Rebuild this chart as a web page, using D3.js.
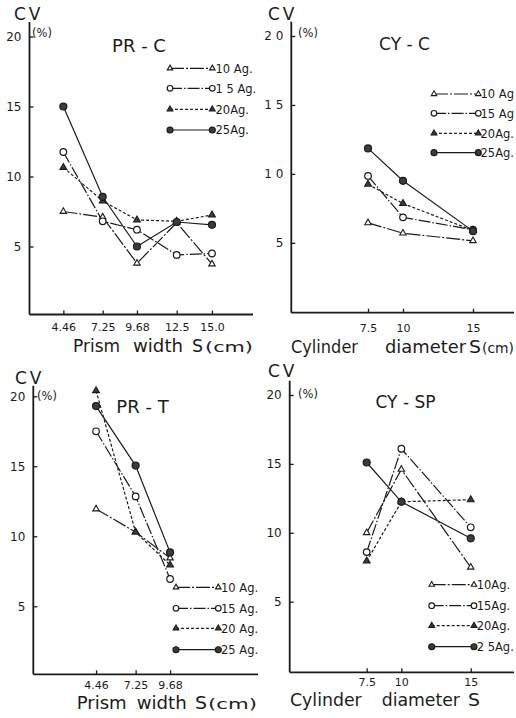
<!DOCTYPE html>
<html>
<head>
<meta charset="utf-8">
<script src="https://cdn.jsdelivr.net/npm/d3@7"></script>
<style>
  body { margin: 0; background: #fff; }
  svg text { font-family: "DejaVu Sans", sans-serif; fill: #1b1b1b; }
</style>
</head>
<body>
<svg id="chart" width="516" height="718"></svg>
<script>
// Coefficient of variation (%) by sample size for prism and cylinder specimens
const seriesNames = ["10 Ag.", "15 Ag.", "20 Ag.", "25 Ag."];

const prismWidths = [4.46, 7.25, 9.68, 12.5, 15.0];
const prismTickLabels = ["4.46", "7.25", "9.68", "12.5", "15.0"];
const prismWidthsT = [4.46, 7.25, 9.68];
const prismTickLabelsT = ["4.46", "7.25", "9.68"];
const cylinderDiameters = [7.5, 10, 15];
const cylinderTickLabels = ["7.5", "10", "15"];

const cvTicks = [5, 10, 15, 20];
const cvTickLabels = ["5", "10", "15", "20"];
const cvTickLabelsSpaced = ["5", "1 0", "1 5", "2 0"];

// PR-C
const prC_10 = [7.5, 7.1, 3.8, 6.7, 3.75];
const prC_15 = [11.75, 6.8, 6.2, 4.4, 4.5];
const prC_20 = [10.65, 8.25, 6.9, 6.8, 7.25];
const prC_25 = [15.0, 8.55, 5.0, 6.75, 6.55];

// CY-C
const cyC_10 = [6.45, 5.7, 5.15];
const cyC_15 = [9.85, 6.85, 5.95];
const cyC_20 = [9.25, 7.85, 5.9];
const cyC_25 = [11.85, 9.5, 5.85];

// PR-T
const prT_10 = [11.95, 10.3, 8.45];
const prT_15 = [17.5, 12.85, 6.95];
const prT_20 = [20.4, 10.3, 7.95];
const prT_25 = [19.3, 15.05, 8.85];

// CY-SP
const cySP_10 = [10.0, 14.6, 7.5];
const cySP_15 = [8.6, 16.1, 10.4];
const cySP_20 = [7.95, 12.25, 12.4];
const cySP_25 = [15.1, 12.25, 9.6];

const svg = d3.select("#chart");
const ink = "#1b1b1b";
const fillDark = "#3c3c3c";

// marker kind and dash pattern per series (10, 15, 20, 25 Ag.)
const markerKinds = ["triOpen", "circleOpen", "triFilled", "circleFilled"];
const dashes = ["14,2,2,2", "12,2,1.5,2", "3,2", null];

function drawMarker(g, kind, cx, cy, scale = 1) {
  if (kind.startsWith("circle")) {
    g.append("circle")
      .attr("cx", cx).attr("cy", cy)
      .attr("r", (kind === "circleFilled" ? 3.5 : 3.3) * scale)
      .attr("fill", kind === "circleFilled" ? fillDark : "#fff")
      .attr("stroke", ink).attr("stroke-width", 1.2);
  } else {
    g.append("path")
      .attr("d", d3.symbol().type(d3.symbolTriangle).size((kind === "triFilled" ? 20 : 18) * scale * scale)())
      .attr("transform", `translate(${cx},${cy})`)
      .attr("fill", kind === "triFilled" ? fillDark : "#fff")
      .attr("stroke", ink).attr("stroke-width", 1.1);
  }
}

const panels = [
  {
    title: "PR - C", titleX: 139, titleY: 52, titleSize: 18,
    left: 29.5, right: 253, top: 22, axisY: 314.5,
    xDomain: [2.06, 17.91], y0: 316.5, y20: 36.5,
    xs: prismWidths, xLabels: prismTickLabels, yLabels: cvTickLabels,
    series: [prC_10, prC_15, prC_20, prC_25],
    cv: [14, 20], pct: [32, 37],
    xLabelBase: 331,
    axisTitle: [["Prism", 73, 120], ["width", 133, 183], ["S", 192, 203]], unitX: 205, unitW: 48, axisTitleY: 352,
    legend: { x1: 170, x2: 212.3, ys: [68.3, 88.3, 109.3, 130], tx: 215.5,
              labels: ["10 Ag.", "1 5 Ag.", "20Ag.", "25Ag."] }
  },
  {
    title: "CY - C", titleX: 404.5, titleY: 49.5, titleSize: 17,
    left: 291.3, right: 514, top: 21.7, axisY: 312.7,
    xDomain: [2.02, 17.93], y0: 311.8, y20: 36,
    xs: cylinderDiameters, xLabels: cylinderTickLabels, yLabels: cvTickLabelsSpaced,
    series: [cyC_10, cyC_15, cyC_20, cyC_25],
    cv: [268, 20], pct: [298, 37],
    xLabelBase: 332,
    axisTitle: [["Cylinder", 291, 358], ["diameter", 385, 466], ["S", 469, 481]], unitX: 482, unitW: 32, axisTitleY: 353,
    legend: { x1: 434, x2: 478.3, ys: [94, 113.3, 133.3, 152.7], tx: 480.5,
              labels: ["10 Ag", "15 Ag", "20Ag.", "25Ag."] }
  },
  {
    title: "PR - T", titleX: 142.5, titleY: 412.5, titleSize: 18,
    left: 33.3, right: 258, top: 385.7, axisY: 674.3,
    xDomain: [0.035, 15.88], y0: 676.3, y20: 396.3,
    xs: prismWidthsT, xLabels: prismTickLabelsT, yLabels: cvTickLabels,
    series: [prT_10, prT_15, prT_20, prT_25],
    cv: [15, 384], pct: [37, 400],
    xLabelBase: 689,
    axisTitle: [["Prism", 76.7, 126.7], ["width", 136.7, 186.7], ["S", 195, 207]], unitX: 208, unitW: 49, axisTitleY: 708.5,
    legend: { x1: 176, x2: 218.3, ys: [587.3, 608.3, 628.3, 649.7], tx: 221,
              labels: ["10 Ag.", "15 Ag.", "20 Ag.", "25 Ag."] }
  },
  {
    title: "CY - SP", titleX: 405.5, titleY: 407.5, titleSize: 17,
    left: 289.7, right: 514, top: 380.7, axisY: 672.3,
    xDomain: [1.95, 18.12], y0: 670.6, y20: 395,
    xs: cylinderDiameters, xLabels: cylinderTickLabels, yLabels: cvTickLabels,
    series: [cySP_10, cySP_15, cySP_20, cySP_25],
    cv: [268, 377], pct: [298, 398],
    xLabelBase: 686.5,
    axisTitle: [["Cylinder", 290, 361.7], ["diameter", 381.7, 460], ["S", 468, 480]], unitX: null, axisTitleY: 706,
    legend: { x1: 431.7, x2: 474, ys: [584.7, 605.7, 625.7, 646.7], tx: 476.7,
              labels: ["10Ag.", "15Ag.", "20Ag.", "2 5Ag."] }
  }
];

function drawPanel(p) {
  const g = svg.append("g");
  const x = d3.scaleLinear().domain(p.xDomain).range([p.left, p.right]);
  const y = d3.scaleLinear().domain([0, 20]).range([p.y0, p.y20]);

  // axis lines
  g.append("line").attr("x1", p.left).attr("x2", p.right)
    .attr("y1", p.axisY).attr("y2", p.axisY)
    .attr("stroke", ink).attr("stroke-width", 1.8);
  g.append("line").attr("x1", p.left).attr("x2", p.left)
    .attr("y1", p.axisY).attr("y2", p.top)
    .attr("stroke", ink).attr("stroke-width", 1.8);

  // x ticks point inward, labels below
  const xa = g.append("g").attr("transform", `translate(0,${p.axisY})`)
    .call(d3.axisBottom(x).tickValues(p.xs)
      .tickFormat((d, i) => p.xLabels[i])
      .tickSizeInner(-4).tickSizeOuter(0).tickPadding(0));
  xa.select(".domain").remove();
  xa.attr("font-family", null).attr("font-size", null);
  xa.selectAll(".tick line").attr("stroke", ink).attr("stroke-width", 1.3);
  xa.selectAll(".tick text").attr("y", p.xLabelBase - p.axisY).attr("dy", null)
    .attr("font-size", 11).attr("fill", ink);

  // y ticks point inward, labels left
  const ya = g.append("g").attr("transform", `translate(${p.left},0)`)
    .call(d3.axisLeft(y).tickValues(cvTicks)
      .tickFormat((d, i) => p.yLabels[i])
      .tickSizeInner(-4).tickSizeOuter(0).tickPadding(8));
  ya.select(".domain").remove();
  ya.attr("font-family", null).attr("font-size", null);
  ya.selectAll(".tick line").attr("stroke", ink).attr("stroke-width", 1.3);
  ya.selectAll(".tick text").attr("font-size", 12).attr("fill", ink);

  // axis captions
  g.append("text").attr("x", p.cv[0]).attr("y", p.cv[1])
    .attr("font-size", 17).attr("letter-spacing", 3).text("CV");
  g.append("text").attr("x", p.pct[0]).attr("y", p.pct[1])
    .attr("font-size", 11.5).text("(%)");
  g.append("text").attr("x", p.titleX).attr("y", p.titleY)
    .attr("text-anchor", "middle").attr("font-size", p.titleSize)
    .text(p.title);

  p.axisTitle.forEach(([word, x0, x1]) => {
    g.append("text").attr("x", x0).attr("y", p.axisTitleY)
      .attr("font-size", 17.5)
      .attr("textLength", x1 - x0).attr("lengthAdjust", "spacingAndGlyphs")
      .text(word);
  });
  if (p.unitX !== null) {
    g.append("text").attr("x", p.unitX).attr("y", p.axisTitleY)
      .attr("font-size", 14)
      .attr("textLength", p.unitW).attr("lengthAdjust", "spacingAndGlyphs")
      .text("(cm)");
  }

  // data lines
  const line = d3.line().x((d, i) => x(p.xs[i])).y(d => y(d));
  p.series.forEach((vals, si) => {
    g.append("path").datum(vals).attr("d", line)
      .attr("fill", "none").attr("stroke", ink).attr("stroke-width", 1.2)
      .attr("stroke-dasharray", dashes[si]);
  });
  p.series.forEach((vals, si) => {
    vals.forEach((v, i) => drawMarker(g, markerKinds[si], x(p.xs[i]), y(v)));
  });

  // legend
  const L = p.legend;
  seriesNames.forEach((name, si) => {
    const ly = L.ys[si];
    g.append("line").attr("x1", L.x1).attr("x2", L.x2).attr("y1", ly).attr("y2", ly)
      .attr("stroke", ink).attr("stroke-width", 1.2)
      .attr("stroke-dasharray", dashes[si]);
    drawMarker(g, markerKinds[si], L.x1, ly, 0.85);
    drawMarker(g, markerKinds[si], L.x2, ly, 0.85);
    g.append("text").attr("x", L.tx).attr("y", ly + 4.3)
      .attr("font-size", 11.5).text(L.labels[si]);
  });
}

panels.forEach(drawPanel);
</script>
</body>
</html>
